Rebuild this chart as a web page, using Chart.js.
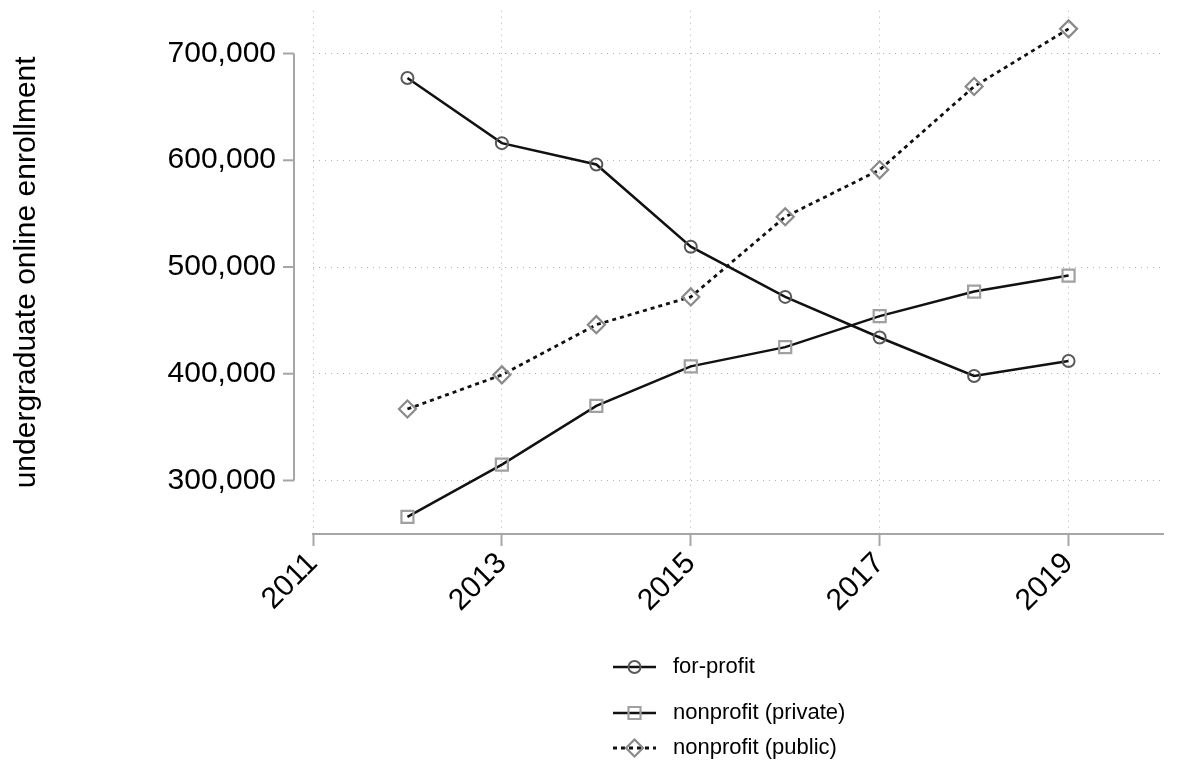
<!DOCTYPE html>
<html>
<head>
<meta charset="utf-8">
<script src="https://cdn.jsdelivr.net/npm/chart.js@4.4.1/dist/chart.umd.min.js"></script>
<style>
  body { margin: 0; background: #fff; }
  #wrap { width: 1177px; height: 761px; position: relative; }
</style>
</head>
<body>
<div id="wrap"><canvas id="enrollChart"></canvas></div>
<script>
var years = [2012, 2013, 2014, 2015, 2016, 2017, 2018, 2019];
var forProfit = [677000, 616000, 596000, 519000, 472000, 434000, 398000, 412000];
var nonprofitPrivate = [266000, 315000, 370000, 407000, 425000, 454000, 477000, 492000];
var nonprofitPublic = [367000, 399000, 446000, 472000, 547000, 591000, 669000, 723000];
var seriesNames = ['for-profit', 'nonprofit (private)', 'nonprofit (public)'];
var xTicks = [2011, 2013, 2015, 2017, 2019];
var yTicks = [300000, 400000, 500000, 600000, 700000];

var FONT = '"Liberation Sans", Arial, Helvetica, sans-serif';
var axisGrey = '#a6a6a6';
var gridGrey = '#b0b0b0';

function toPoints(vals) {
    return years.map(function (yr, i) { return { x: yr, y: vals[i] }; });
}

// stata puts the y axis line a bit left of the plot and only between the end ticks
var yAxisLine = {
    id: 'yAxisLine',
    afterDraw: function (chart) {
        var ctx = chart.ctx, ys = chart.scales.y;
        var x0 = chart.chartArea.left - 19;
        ctx.save();
        ctx.strokeStyle = axisGrey;
        ctx.lineWidth = 2;
        ctx.beginPath();
        ctx.moveTo(x0, ys.getPixelForValue(yTicks[0]));
        ctx.lineTo(x0, ys.getPixelForValue(yTicks[yTicks.length - 1]));
        yTicks.forEach(function (v) {
            var py = ys.getPixelForValue(v);
            ctx.moveTo(x0 - 11, py);
            ctx.lineTo(x0, py);
        });
        ctx.stroke();
        ctx.restore();
    }
};

// legend stacked one per row under the plot
var stackedLegend = {
    id: 'stackedLegend',
    afterDraw: function (chart) {
        var ctx = chart.ctx;
        var rowY = [667, 713, 748];
        var x1 = 613, x2 = 656;
        chart.data.datasets.forEach(function (ds, i) {
            var cy = rowY[i];
            ctx.save();
            ctx.strokeStyle = ds.borderColor;
            ctx.lineWidth = ds.borderWidth;
            ctx.setLineDash(ds.borderDash || []);
            ctx.beginPath();
            ctx.moveTo(x1, cy);
            ctx.lineTo(x2, cy);
            ctx.stroke();
            ctx.setLineDash([]);
            ctx.strokeStyle = ds.pointBorderColor;
            ctx.lineWidth = ds.pointBorderWidth;
            ctx.fillStyle = 'rgba(0,0,0,0)';
            Chart.helpers.drawPoint(ctx, {
                pointStyle: ds.pointStyle,
                radius: ds.pointRadius,
                rotation: 0,
                borderWidth: ds.pointBorderWidth
            }, (x1 + x2) / 2, cy);
            ctx.fillStyle = '#000';
            ctx.font = '22px ' + FONT;
            ctx.textAlign = 'left';
            ctx.textBaseline = 'middle';
            ctx.fillText(ds.label, 673, cy);
            ctx.restore();
        });
    }
};

var ctx1 = document.getElementById('enrollChart').getContext('2d');
var enrollChart = new Chart(ctx1, {
    type: 'line',
    data: {
        datasets: [{
            label: seriesNames[0],
            data: toPoints(forProfit),
            borderColor: '#111',
            borderWidth: 2.5,
            pointStyle: 'circle',
            pointRadius: 6,
            pointBorderWidth: 2,
            pointBorderColor: '#5a5a5a',
            pointBackgroundColor: 'rgba(0,0,0,0)',
            tension: 0
        }, {
            label: seriesNames[1],
            data: toPoints(nonprofitPrivate),
            borderColor: '#111',
            borderWidth: 2.5,
            pointStyle: 'rect',
            pointRadius: 8.5,
            pointBorderWidth: 2.2,
            pointBorderColor: '#a0a0a0',
            pointBackgroundColor: 'rgba(0,0,0,0)',
            tension: 0
        }, {
            label: seriesNames[2],
            data: toPoints(nonprofitPublic),
            borderColor: '#111',
            borderWidth: 2.8,
            borderDash: [4, 4],
            pointStyle: 'rectRot',
            pointRadius: 8.5,
            pointBorderWidth: 2.2,
            pointBorderColor: '#8a8a8a',
            pointBackgroundColor: 'rgba(0,0,0,0)',
            tension: 0
        }]
    },
    options: {
        responsive: true,
        maintainAspectRatio: false,
        animation: false,
        layout: { padding: { top: 7, right: 14, left: 0, bottom: 0 } },
        plugins: {
            legend: { display: false },
            tooltip: { enabled: false }
        },
        scales: {
            x: {
                type: 'linear',
                min: 2011,
                max: 2020,
                afterBuildTicks: function (s) {
                    s.ticks = xTicks.map(function (v) { return { value: v }; });
                },
                afterFit: function (s) {
                    s.height = 227;
                    s.paddingLeft = 0;
                    s.paddingRight = 0;
                },
                grid: {
                    color: gridGrey,
                    lineWidth: 1,
                    drawTicks: true,
                    tickLength: 12,
                    tickColor: axisGrey,
                    tickWidth: 2
                },
                border: { display: true, color: axisGrey, width: 2, dash: [1, 5] },
                ticks: {
                    color: '#000',
                    font: { size: 30, family: FONT },
                    minRotation: 45,
                    maxRotation: 45,
                    autoSkip: false,
                    padding: 0,
                    callback: function (v) { return String(v); }
                }
            },
            y: {
                min: 250000,
                max: 740000,
                afterBuildTicks: function (s) {
                    s.ticks = yTicks.map(function (v) { return { value: v }; });
                },
                afterFit: function (s) {
                    s.width = 313;
                    s.paddingTop = 0;
                    s.paddingBottom = 0;
                },
                grid: { color: gridGrey, lineWidth: 1, drawTicks: false },
                border: { display: false, dash: [1, 5] },
                ticks: {
                    color: '#000',
                    font: { size: 30, family: FONT },
                    padding: 37,
                    callback: function (v) { return v.toLocaleString('en-US'); }
                },
                title: {
                    display: true,
                    text: 'undergraduate online enrollment',
                    color: '#000',
                    font: { size: 30, family: FONT },
                    padding: { top: 9, bottom: 0 }
                }
            }
        }
    },
    plugins: [yAxisLine, stackedLegend]
});
</script>
</body>
</html>
